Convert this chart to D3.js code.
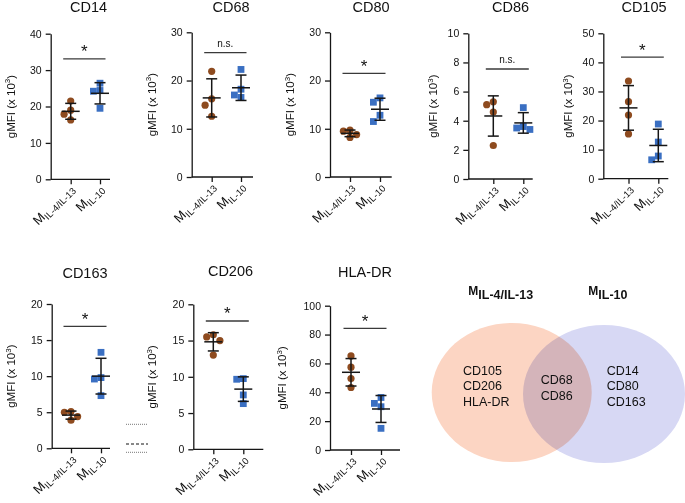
<!DOCTYPE html>
<html><head><meta charset="utf-8">
<script src="https://cdn.jsdelivr.net/npm/d3@7"></script>
<style>
body{margin:0;background:#fff}
svg{display:block}
text{font-family:"Liberation Sans",Arial,Helvetica,sans-serif;fill:#111}
</style>
</head><body>
<svg id="c" width="685" height="503"></svg>
<script>
// ---------------- data ----------------
const markers = ["CD14","CD68","CD80","CD86","CD105","CD163","CD206","HLA-DR"];
const groupMain = ["M","M"];
const groupSub = ["IL-4/IL-13","IL-10"];
const valuesIL4 = [
  [21.5, 19.0, 17.9, 16.3],
  [21.9, 16.2, 14.9, 12.6],
  [9.7, 9.5, 8.8, 8.2],
  [5.3, 5.1, 4.6, 2.3],
  [33.6, 26.5, 21.9, 15.4],
  [5.1, 5.0, 4.4, 3.9],
  [15.8, 15.5, 15.0, 13.0],
  [65.2, 57.4, 49.5, 43.3]
];
const valuesIL10 = [
  [26.4, 24.4, 24.2, 19.5],
  [22.3, 18.2, 17.0, 16.5],
  [16.4, 15.5, 12.8, 11.5],
  [4.9, 3.6, 3.5, 3.4],
  [18.8, 12.6, 7.8, 6.5],
  [13.3, 9.8, 9.6, 7.3],
  [9.75, 9.66, 7.5, 6.3],
  [36.4, 32.3, 30.0, 15.0]
];
const yMax = [40, 30, 30, 10, 50, 20, 20, 100];
const yStep = [10, 10, 10, 2, 10, 5, 5, 20];
const sigLevel = [33.1, 25.8, 21.5, 7.55, 41.8, 16.9, 17.7, 84.3];
const sigLabel = ["*", "n.s.", "*", "n.s.", "*", "*", "*", "*"];
const vennMain = ["M", "M"];
const vennSub = ["IL-4/IL-13", "IL-10"];
const vennLeft = ["CD105", "CD206", "HLA-DR"];
const vennBoth = ["CD68", "CD86"];
const vennRight = ["CD14", "CD80", "CD163"];

// ---------------- layout ----------------
const layout = [
  {ax:50.7, top:33.7, bot:179.3, xe:110,   g:[70.7,100],    tx:88.5,  ty:12,  lo:40},
  {ax:191.7,top:32.3, bot:177,   xe:253,   g:[211.7,241],   tx:231,   ty:12,  lo:40},
  {ax:330,  top:32.3, bot:177,   xe:391.7, g:[350,380],     tx:371,   ty:12,  lo:40},
  {ax:468.3,top:33.3, bot:179,   xe:532.7, g:[493.3,523.3], tx:510.5, ty:12,  lo:35},
  {ax:603.3,top:33.3, bot:178.7, xe:668.3, g:[628.5,658.3], tx:644,   ty:12,  lo:35},
  {ax:51.7, top:304,  bot:448.3, xe:110,   g:[71,101],      tx:85,    ty:278, lo:40.5},
  {ax:193.3,top:304.3,bot:449.3, xe:263.3, g:[213.3,243.3], tx:230.5, ty:276, lo:41},
  {ax:330,  top:305.7,bot:450,   xe:400,   g:[351,381],     tx:365,   ty:277, lo:48}
];
const colors = ["#8e4b1f", "#3a6fc2"];
const ink = "#161616";

const svg = d3.select("#c");

function swarm(vals, y, step, dmin) {
  const order = vals.map((v,i)=>i).sort((a,b)=>vals[b]-vals[a]);
  const placed = [];
  const off = new Array(vals.length).fill(0);
  const cands = [0,-1,1,-2,2,-3,3];
  order.forEach(i => {
    const py = y(vals[i]);
    for (const c of cands) {
      const px = c*step;
      const hit = placed.some(p => Math.hypot(p[0]-px, p[1]-py) < dmin);
      if (!hit) { off[i] = px; placed.push([px,py]); break; }
    }
  });
  return off;
}

markers.forEach((name, k) => {
  const L = layout[k];
  const g = svg.append("g");
  const y = d3.scaleLinear().domain([0, yMax[k]]).range([L.bot, L.top]);
  const x = d3.scalePoint().domain([0,1]).range(L.g);

  // title
  g.append("text").attr("x", L.tx).attr("y", L.ty).attr("text-anchor","middle")
    .attr("font-size", 14.5).text(name);

  // y axis
  const yAxis = d3.axisLeft(y)
    .tickValues(d3.range(0, yMax[k] + yStep[k]/2, yStep[k]))
    .tickSize(5).tickSizeOuter(0).tickPadding(4).tickFormat(d3.format("d"));
  const ya = g.append("g").attr("transform", `translate(${L.ax},0)`).call(yAxis);
  ya.select(".domain").attr("stroke", ink).attr("stroke-width", 1.3);
  ya.selectAll(".tick line").attr("stroke", ink).attr("stroke-width", 1.3);
  ya.selectAll(".tick text").attr("font-size", 10.5).attr("fill", ink)
    .style("font-family", '"Liberation Sans",Arial,sans-serif');

  // x axis
  g.append("line").attr("x1", L.ax).attr("x2", L.xe).attr("y1", L.bot).attr("y2", L.bot)
    .attr("stroke", ink).attr("stroke-width", 1.3);
  const xAxis = d3.axisBottom(x).tickSize(5).tickSizeOuter(0).tickFormat("");
  const xa = g.append("g").attr("transform", `translate(0,${L.bot})`).call(xAxis);
  xa.select(".domain").remove();
  xa.selectAll(".tick line").attr("stroke", ink).attr("stroke-width", 1.3);

  // x labels
  [0,1].forEach(j => {
    const t = g.append("text")
      .attr("transform", `translate(${x(j)+4},${L.bot+10}) rotate(-45)`)
      .attr("text-anchor", "end");
    t.append("tspan").attr("font-size", 13).text(groupMain[j]);
    t.append("tspan").attr("font-size", 9.5).attr("dy", 3).text(groupSub[j]);
  });

  // y label
  const yl = g.append("text")
    .attr("transform", `translate(${L.ax - L.lo + 4},${(L.top+L.bot)/2}) rotate(-90)`)
    .attr("text-anchor", "middle").attr("font-size", 11.5);
  yl.append("tspan").text("gMFI (x 10");
  yl.append("tspan").attr("font-size", 8).attr("dy", -4.5).text("3");
  yl.append("tspan").attr("dy", 4.5).text(")");

  // significance
  const sy = y(sigLevel[k]);
  g.append("line").attr("x1", x(0)-7.5).attr("x2", x(1)+5.5).attr("y1", sy).attr("y2", sy)
    .attr("stroke", "#3a3a3a").attr("stroke-width", 1.3);
  if (sigLabel[k] === "*") {
    g.append("text").attr("x", (x(0)+x(1))/2 - 1).attr("y", sy - 1.5)
      .attr("text-anchor","middle").attr("font-size", 17).text("*");
  } else {
    g.append("text").attr("x", (x(0)+x(1))/2 - 1).attr("y", sy - 6)
      .attr("text-anchor","middle").attr("font-size", 10).text(sigLabel[k]);
  }

  // points + error bars
  [valuesIL4[k], valuesIL10[k]].forEach((vals, j) => {
    const cx = x(j);
    const off = swarm(vals, y, 6.6, 6.5);
    const m = d3.mean(vals), sd = d3.deviation(vals);
    if (j === 0) {
      g.selectAll(null).data(vals).join("circle")
        .attr("cx", (d,i)=>cx+off[i]).attr("cy", d=>y(d)).attr("r", 3.6)
        .attr("fill", colors[0]);
    } else {
      const s = 6.8;
      g.selectAll(null).data(vals).join("rect")
        .attr("x", (d,i)=>cx+off[i]-s/2).attr("y", d=>y(d)-s/2)
        .attr("width", s).attr("height", s).attr("fill", colors[1]);
    }
    const eb = g.append("g").attr("stroke", ink).attr("stroke-width", 1.5);
    eb.append("line").attr("x1", cx).attr("x2", cx).attr("y1", y(m+sd)).attr("y2", y(m-sd));
    eb.append("line").attr("x1", cx-5.5).attr("x2", cx+5.5).attr("y1", y(m+sd)).attr("y2", y(m+sd));
    eb.append("line").attr("x1", cx-5.5).attr("x2", cx+5.5).attr("y1", y(m-sd)).attr("y2", y(m-sd));
    eb.append("line").attr("x1", cx-9).attr("x2", cx+9).attr("y1", y(m)).attr("y2", y(m));
  });
});

// small legend-like line artefacts between CD163 and CD206
const art = svg.append("g");
art.append("line").attr("x1",126).attr("x2",148).attr("y1",424.3).attr("y2",424.3)
  .attr("stroke","#777").attr("stroke-width",1).attr("stroke-dasharray","1,1");
art.append("line").attr("x1",126).attr("x2",148).attr("y1",444).attr("y2",444)
  .attr("stroke","#111").attr("stroke-width",1).attr("stroke-dasharray","3,2");
art.append("line").attr("x1",126).attr("x2",148).attr("y1",452.3).attr("y2",452.3)
  .attr("stroke","#777").attr("stroke-width",1).attr("stroke-dasharray","1,1");

// ---------------- Venn ----------------
const venn = svg.append("g");
const vennShapes = [
  {cx:511.7, cy:392.5, rx:80, ry:69.5, fill:"#fcd5c3"},
  {cx:604,   cy:394,   rx:81, ry:69,   fill:"#d7d8f4"}
];
venn.selectAll("ellipse").data(vennShapes).join("ellipse")
  .attr("cx", d=>d.cx).attr("cy", d=>d.cy).attr("rx", d=>d.rx).attr("ry", d=>d.ry)
  .attr("fill", d=>d.fill).style("mix-blend-mode","multiply");

const vennTitleX = [468.3, 588.3];
vennMain.forEach((mm, j) => {
  const t = venn.append("text").attr("x", vennTitleX[j]).attr("y", 295)
    .attr("font-weight","bold");
  t.append("tspan").attr("font-size", 12).text(mm);
  t.append("tspan").attr("font-size", 12.5).attr("dy", 4).text(vennSub[j]);
});
function vennList(list, x0, y0) {
  list.forEach((s, i) => {
    venn.append("text").attr("x", x0).attr("y", y0 + i*15.8).attr("font-size", 12.5).text(s);
  });
}
vennList(vennLeft, 463, 374.5);
vennList(vennBoth, 540.7, 384);
vennList(vennRight, 606.7, 374.5);
</script>
</body></html>
